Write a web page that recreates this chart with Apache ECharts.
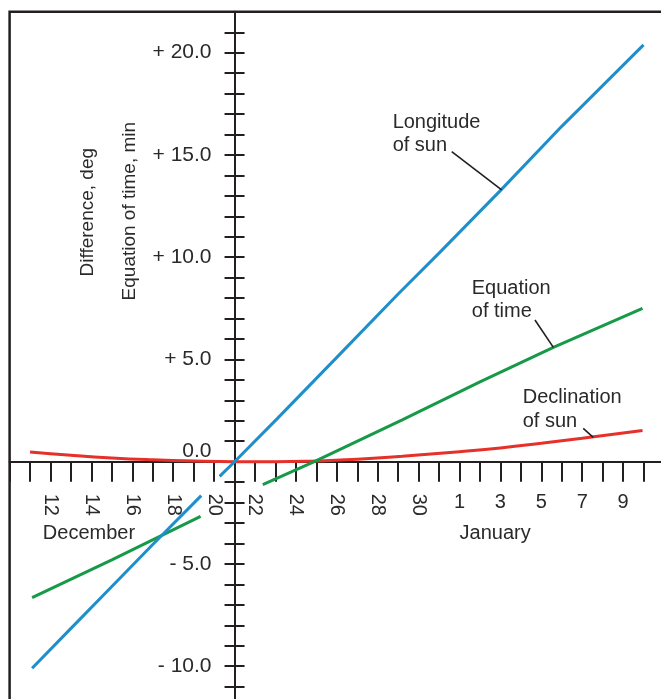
<!DOCTYPE html>
<html><head><meta charset="utf-8">
<script src="https://cdn.jsdelivr.net/npm/echarts@6/dist/echarts.min.js"></script>
<style>html,body{margin:0;padding:0;background:#fff}#c{width:661px;height:699px}</style>
</head><body><div id="c"></div>
<script>
// Day numbers: December d -> d, January d -> 31 + d. Vertical axis crosses at December 21.
const longitudeDays = [11.1, 13, 15, 17, 19.37, 19.8, 20.27, 21, 23.1, 26, 29, 31, 34.02, 37, 41.0];
const longitudeDeg  = [-10.1, -8.15, -6.1, -4.05, -1.66, null, -0.72, 0, 2.12, 5.1, 8.2, 10.2, 13.28, 16.4, 20.38];
const eqTimeDays = [11.1, 15, 19.34, 20.8, 22.38, 24.9, 29.2, 33, 36.59, 40.95];
const eqTimeMin  = [-6.65, -4.8, -2.67, null, -1.12, 0, 2.05, 3.9, 5.59, 7.5];
const declinationDays = [11.0, 13, 15, 17, 19, 21, 23, 25, 27, 29.2, 32, 34, 36, 38, 40.95];
const declinationDeg  = [0.47, 0.31, 0.18, 0.09, 0.03, 0.0, 0.0, 0.04, 0.12, 0.27, 0.49, 0.67, 0.9, 1.15, 1.53];

const decemberTickLabels = ['12','14','16','18','20','22','24','26','28','30'];
const januaryTickLabels  = ['1','3','5','7','9'];
const yTickValues = [-10, -5, 0, 5, 10, 15, 20];
const yTickLabels = ['- 10.0', '- 5.0', '0.0', '+ 5.0', '+ 10.0', '+ 15.0', '+ 20.0'];

const CROSS_DAY = 21;
const X_MIN = 10, X_MAX = 42, Y_MIN = -12, Y_MAX = 22;
const FONT = "'Liberation Sans', Arial, sans-serif";
const INK = '#231f20';
const TEXT = '#2a2a2a';

const GRID = {left: 9.6, top: 11.8, width: 654.4, height: 695.3};
// axes cross at x = CROSS_DAY, y = 0: offsets from the grid's left / bottom edges
const yAxisOffset = -GRID.width * (CROSS_DAY - X_MIN) / (X_MAX - X_MIN);
const xAxisOffset = -GRID.height * (0 - Y_MIN) / (Y_MAX - Y_MIN);

function toXY(days, vals) {
  return days.map((d, i) => [d - CROSS_DAY, vals[i] === null ? '-' : vals[i]]);
}

const chart = echarts.init(document.getElementById('c'), null, {renderer: 'canvas'});

const xCommon = {
  type: 'value', min: X_MIN - CROSS_DAY, max: X_MAX - CROSS_DAY, interval: 1,
  position: 'bottom', offset: xAxisOffset, splitLine: {show: false}
};
const yCommon = {
  type: 'value', min: Y_MIN, max: Y_MAX, interval: 1,
  position: 'left', offset: yAxisOffset, splitLine: {show: false}
};

const option = {
  animation: false,
  backgroundColor: '#fff',
  grid: Object.assign({show: true, containLabel: false, outerBoundsMode: 'none',
         borderColor: INK, borderWidth: 2.5, backgroundColor: 'transparent'}, GRID),
  xAxis: [
    Object.assign({}, xCommon, {
      axisLine: {onZero: false, lineStyle: {color: INK, width: 2}},
      axisTick: {show: true, length: 20, lineStyle: {color: INK, width: 2}},
      axisLabel: {
        rotate: -90, margin: 32, fontSize: 20, fontFamily: FONT, color: TEXT,
        showMinLabel: true, showMaxLabel: true,
        formatter: v => {
          const d = Math.round(v + CROSS_DAY);
          return (d <= 31 && decemberTickLabels.includes(String(d))) ? String(d) : '';
        }
      }
    }),
    Object.assign({}, xCommon, {
      axisLine: {show: false, onZero: false},
      axisTick: {show: false},
      axisLabel: {
        margin: 31, fontSize: 20, fontFamily: FONT, color: TEXT,
        formatter: v => {
          const d = Math.round(v + CROSS_DAY);
          return (d > 31 && januaryTickLabels.includes(String(d - 31))) ? String(d - 31) : '';
        }
      }
    })
  ],
  yAxis: [
    Object.assign({}, yCommon, {
      axisLine: {onZero: false, lineStyle: {color: INK, width: 2}},
      axisTick: {show: true, length: 10, lineStyle: {color: INK, width: 2}},
      axisLabel: {
        margin: 23, fontSize: 21, fontFamily: FONT, color: TEXT,
        showMinLabel: true, showMaxLabel: true,
        formatter: v => {
          const r = Math.round(v);
          const i = yTickValues.indexOf(r);
          if (i < 0 || Math.abs(v - r) > 1e-6) return '';
          return r === 0 ? '{z|' + yTickLabels[i] + '}' : yTickLabels[i];
        },
        rich: {z: {padding: [0, 0, 20, 0], fontSize: 21, fontFamily: FONT, color: TEXT}}
      }
    }),
    Object.assign({}, yCommon, {
      axisLine: {show: false, onZero: false},
      axisTick: {show: true, inside: true, length: 10, lineStyle: {color: INK, width: 2}},
      axisLabel: {show: false}
    })
  ],
  series: [
    {name: 'Declination of sun', type: 'line', data: toXY(declinationDays, declinationDeg),
     showSymbol: false, smooth: 0.5, connectNulls: false,
     lineStyle: {color: '#e6302a', width: 3}, itemStyle: {color: '#e6302a'}, z: 3},
    {name: 'Equation of time', type: 'line', data: toXY(eqTimeDays, eqTimeMin),
     showSymbol: false, connectNulls: false,
     lineStyle: {color: '#179a48', width: 3}, itemStyle: {color: '#179a48'}, z: 4},
    {name: 'Longitude of sun', type: 'line', data: toXY(longitudeDays, longitudeDeg),
     showSymbol: false, connectNulls: false,
     lineStyle: {color: '#1e8fcb', width: 3}, itemStyle: {color: '#1e8fcb'}, z: 5}
  ]
};
chart.setOption(option);

// Annotations, placed in data coordinates [day, value]
const annotationTexts = [
  {text: 'Longitude\nof sun', at: [28.73, 16.6], leader: [[31.62, 15.16], [34.06, 13.29]]},
  {text: 'Equation\nof time', at: [32.6, 8.48], leader: [[35.69, 6.93], [36.59, 5.59]]},
  {text: 'Declination\nof sun', at: [35.09, 3.13], leader: [[38.05, 1.63], [38.54, 1.19]]}
];
const monthTexts = [
  {text: 'December', at: [13.88, -3.49]},
  {text: 'January', at: [33.74, -3.49]}
];
const axisTitles = [
  {text: 'Difference, deg', at: [13.83, 12.2]},
  {text: 'Equation of time, min', at: [15.89, 12.25]}
];

function px(p) { return chart.convertToPixel({gridIndex: 0}, [p[0] - CROSS_DAY, p[1]]); }

const graphics = [];
annotationTexts.forEach(a => {
  const p = px(a.at);
  graphics.push({type: 'text', x: p[0], y: p[1] - 11.75, z: 10,
    style: {text: a.text, font: '20px ' + FONT, fill: TEXT, lineHeight: 23.5, align: 'left', verticalAlign: 'top'}});
  const s = px(a.leader[0]), e = px(a.leader[1]);
  graphics.push({type: 'line', z: 10, shape: {x1: s[0], y1: s[1], x2: e[0], y2: e[1]},
    style: {stroke: INK, lineWidth: 1.6}});
});
monthTexts.forEach(m => {
  const p = px(m.at);
  graphics.push({type: 'text', x: p[0], y: p[1], z: 10,
    style: {text: m.text, font: '20px ' + FONT, fill: TEXT, align: 'center', verticalAlign: 'middle'}});
});
axisTitles.forEach(t => {
  const p = px(t.at);
  graphics.push({type: 'text', x: p[0], y: p[1], rotation: Math.PI / 2, z: 10,
    style: {text: t.text, font: '19px ' + FONT, fill: TEXT, align: 'center', verticalAlign: 'middle'}});
});
chart.setOption({graphic: graphics});
</script>
</body></html>
